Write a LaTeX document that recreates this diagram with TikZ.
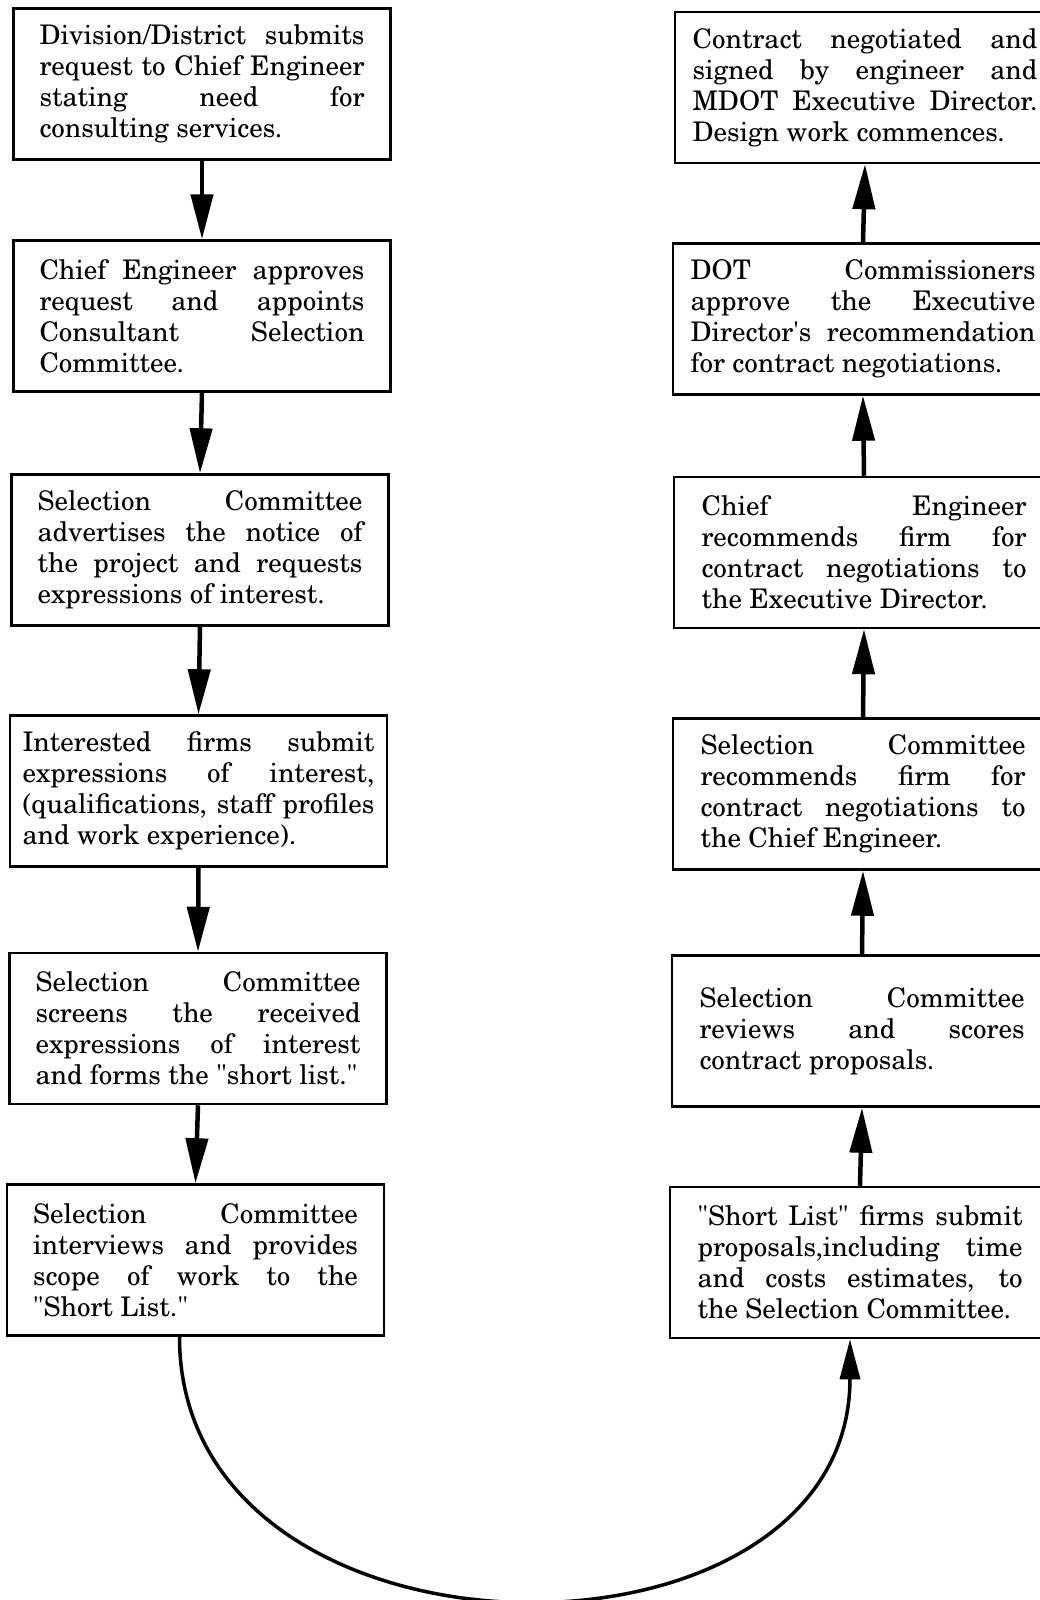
\documentclass[tikz,border=0pt]{standalone}
\usepackage[T1]{fontenc}
\usepackage{newcent}
\usepackage{tikz}
\usetikzlibrary{arrows.meta}
\hbadness=10000
\tikzset{
  stepbox/.style ={draw=black, fill=white, line width=2.5pt,
                   minimum width=377pt, minimum height=151pt,
                   text width=325pt, align=justify,
                   inner xsep=4pt, inner ysep=4pt,
                   font=\fontsize{27}{31}\selectfont},
  rbox/.style    ={stepbox, minimum width=380pt},
  arr/.style     ={-{Triangle[length=45pt,width=22pt]}, line width=4.5pt},
  bendarr/.style ={-{Triangle[length=40pt,width=20pt]}, line width=3.5pt},
}

\begin{document}
\begin{tikzpicture}[x=1pt,y=1pt]
  \useasboundingbox (0,0) rectangle (1040,-1600);
  % left column, going down
  \node[stepbox] (L1) at (202,-84)
    {Division/District submits\linebreak request to Chief Engineer\linebreak
     stating need for\linebreak consulting services.};
  \node[stepbox] (L2) at (202,-316)
    {Chief Engineer approves\linebreak request and appoints\linebreak
     Consultant Selection\linebreak Committee.};
  \node[stepbox] (L3) at (200,-550)
    {Selection Committee\linebreak advertises the notice of\linebreak
     the project and requests\linebreak expressions of interest.};
  \node[stepbox,text width=352pt] (L4) at (198.5,-791)
    {Interested firms submit\linebreak expressions of interest,\linebreak
     (qualifications, staff profiles\linebreak and work experience).};
  \node[stepbox] (L5) at (198,-1028.5)
    {Selection Committee\linebreak screens the received\linebreak
     expressions of interest\linebreak and forms the "short list."};
  \node[stepbox] (L6) at (195.5,-1260)
    {Selection Committee\linebreak interviews and provides\linebreak
     scope of work to the\linebreak "Short List."};
  % right column, going up
  \node[rbox,text width=345pt] (R1) at (865,-87.5)
    {Contract negotiated and\linebreak signed by engineer and\linebreak
     MDOT Executive Director.\linebreak Design work commences.};
  \node[rbox,text width=345pt] (R2) at (863,-319)
    {DOT Commissioners\linebreak approve the Executive\linebreak
     Director\textquotesingle s recommendation\linebreak for contract negotiations.};
  \node[rbox] (R3) at (864,-552.5)
    {Chief Engineer\linebreak recommends firm for\linebreak
     contract negotiations to\linebreak the Executive Director.};
  \node[rbox] (R4) at (863,-794)
    {Selection Committee\linebreak recommends firm for\linebreak
     contract negotiations to\linebreak the Chief Engineer.};
  \node[rbox] (R5) at (862,-1031)
    {Selection Committee\linebreak reviews and scores\linebreak
     contract proposals.};
  \node[rbox] (R6) at (860,-1262.5)
    {"Short List" firms submit\linebreak proposals,including time\linebreak
     and costs estimates, to\linebreak the Selection Committee.};
  \draw[arr] (L1.south) -- (L2.north);
  \draw[arr] (L2.south) -- (L3.north);
  \draw[arr] (L3.south) -- (L4.north);
  \draw[arr] (L4.south) -- (L5.north);
  \draw[arr] (L5.south) -- (L6.north);
  \draw[arr] (R6.north) -- (R5.south);
  \draw[arr] (R5.north) -- (R4.south);
  \draw[arr] (R4.north) -- (R3.south);
  \draw[arr] (R3.north) -- (R2.south);
  \draw[arr] (R2.north) -- (R1.south);
  % the bend from the short list over to the proposals
  \coordinate (cs) at ([xshift=-16pt]L6.south);
  \coordinate (ce) at ([xshift=-10pt]R6.south);
  \draw[bendarr] (cs) .. controls +(0,-346) and +(0,-346) .. (ce);
\end{tikzpicture}
\end{document}
